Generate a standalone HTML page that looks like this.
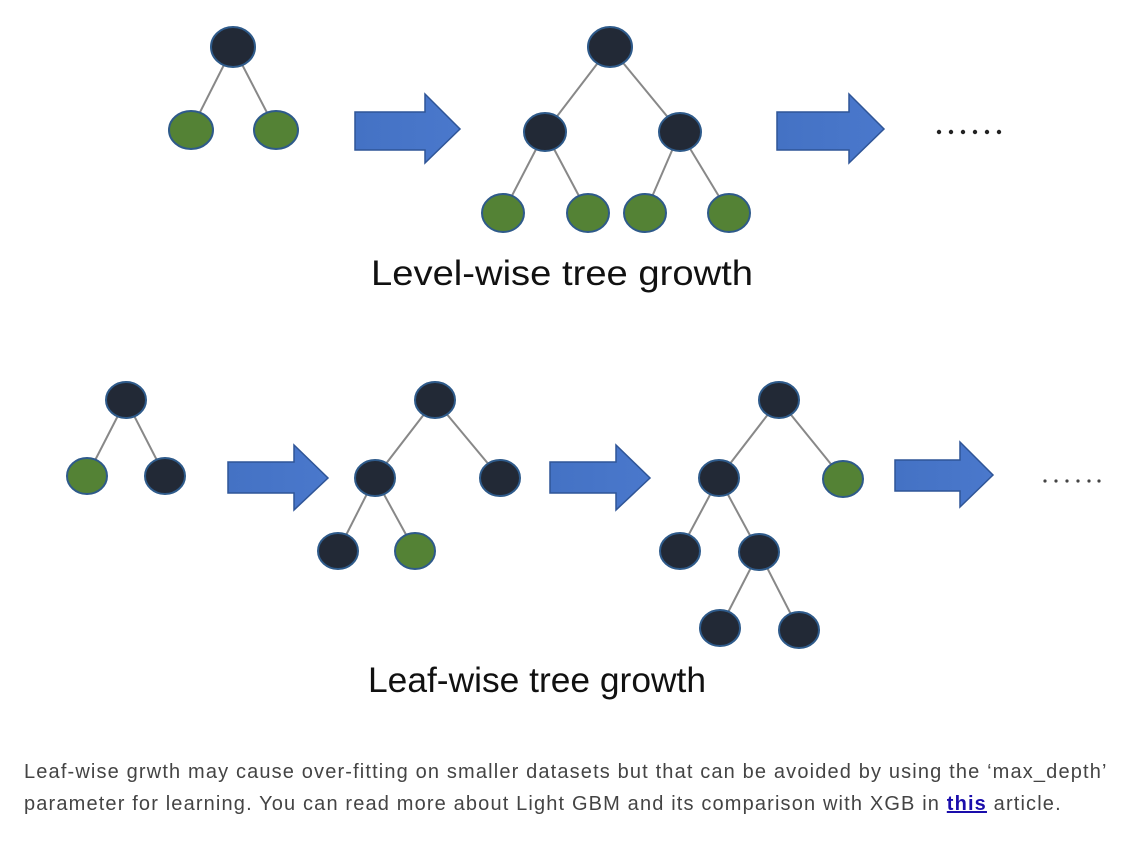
<!DOCTYPE html>
<html><head><style>
body{margin:0;background:#fff;width:1143px;height:851px;overflow:hidden;position:relative}
svg{position:absolute;left:0;top:0}
.p{position:absolute;left:24px;top:756px;width:1119px;white-space:nowrap;font-family:"Liberation Sans",sans-serif;font-size:20px;letter-spacing:1.15px;line-height:32px;color:#444}
.p a{color:#1a0dab;font-weight:bold;text-decoration:underline}
</style></head><body>
<svg width="1143" height="851" xmlns="http://www.w3.org/2000/svg">
<defs>
<linearGradient id="ag" x1="0" x2="1"><stop offset="0" stop-color="#4472c4"/><stop offset="1" stop-color="#4a78cc"/></linearGradient>
</defs>
<g stroke="#888" stroke-width="2">
<line x1="233" y1="47" x2="191" y2="130"/><line x1="233" y1="47" x2="276" y2="130"/>
<line x1="610" y1="47" x2="545" y2="132"/><line x1="610" y1="47" x2="680" y2="132"/>
<line x1="545" y1="132" x2="503" y2="213"/><line x1="545" y1="132" x2="588" y2="213"/>
<line x1="680" y1="132" x2="645" y2="213"/><line x1="680" y1="132" x2="729" y2="213"/>
<line x1="126" y1="400" x2="87" y2="476"/><line x1="126" y1="400" x2="165" y2="476"/>
<line x1="435" y1="400" x2="375" y2="478"/><line x1="435" y1="400" x2="500" y2="478"/>
<line x1="375" y1="478" x2="338" y2="551"/><line x1="375" y1="478" x2="415" y2="551"/>
<line x1="779" y1="400" x2="719" y2="478"/><line x1="779" y1="400" x2="843" y2="479"/>
<line x1="719" y1="478" x2="680" y2="551"/><line x1="719" y1="478" x2="759" y2="552"/>
<line x1="759" y1="552" x2="720" y2="628"/><line x1="759" y1="552" x2="799" y2="630"/>
</g>
<g stroke="#2e5a8a" stroke-width="2">
<g fill="#222936">
<ellipse cx="233" cy="47" rx="22" ry="20"/>
<ellipse cx="610" cy="47" rx="22" ry="20"/>
<ellipse cx="545" cy="132" rx="21" ry="19"/><ellipse cx="680" cy="132" rx="21" ry="19"/>
<ellipse cx="126" cy="400" rx="20" ry="18"/><ellipse cx="165" cy="476" rx="20" ry="18"/>
<ellipse cx="435" cy="400" rx="20" ry="18"/><ellipse cx="375" cy="478" rx="20" ry="18"/><ellipse cx="500" cy="478" rx="20" ry="18"/><ellipse cx="338" cy="551" rx="20" ry="18"/>
<ellipse cx="779" cy="400" rx="20" ry="18"/><ellipse cx="719" cy="478" rx="20" ry="18"/><ellipse cx="680" cy="551" rx="20" ry="18"/><ellipse cx="759" cy="552" rx="20" ry="18"/><ellipse cx="720" cy="628" rx="20" ry="18"/><ellipse cx="799" cy="630" rx="20" ry="18"/>
</g>
<g fill="#548235">
<ellipse cx="191" cy="130" rx="22" ry="19"/><ellipse cx="276" cy="130" rx="22" ry="19"/>
<ellipse cx="503" cy="213" rx="21" ry="19"/><ellipse cx="588" cy="213" rx="21" ry="19"/><ellipse cx="645" cy="213" rx="21" ry="19"/><ellipse cx="729" cy="213" rx="21" ry="19"/>
<ellipse cx="87" cy="476" rx="20" ry="18"/><ellipse cx="415" cy="551" rx="20" ry="18"/><ellipse cx="843" cy="479" rx="20" ry="18"/>
</g>
</g>
<g fill="url(#ag)" stroke="#2f5597" stroke-width="1.5">
<polygon points="355,112 425,112 425,94 460,129 425,163 425,150 355,150"/>
<polygon points="777,112 849,112 849,94 884,129 849,163 849,150 777,150"/>
<polygon points="228,462 294,462 294,445 328,478 294,510 294,493 228,493"/>
<polygon points="550,462 616,462 616,445 650,478 616,510 616,493 550,493"/>
<polygon points="895,460 960,460 960,442 993,475 960,507 960,491 895,491"/>
</g>
<g fill="#222">
<circle cx="939" cy="132" r="2.2"/><circle cx="951" cy="132" r="2.2"/><circle cx="963" cy="132" r="2.2"/><circle cx="975" cy="132" r="2.2"/><circle cx="987" cy="132" r="2.2"/><circle cx="999" cy="132" r="2.2"/>
</g>
<g fill="#444">
<circle cx="1045" cy="481" r="1.6"/><circle cx="1056" cy="481" r="1.6"/><circle cx="1067" cy="481" r="1.6"/><circle cx="1078" cy="481" r="1.6"/><circle cx="1089" cy="481" r="1.6"/><circle cx="1099" cy="481" r="1.6"/>
</g>
<text x="371" y="285" textLength="382" lengthAdjust="spacingAndGlyphs" font-family="Liberation Sans, sans-serif" font-size="35" fill="#111">Level-wise tree growth</text>
<text x="368" y="692" textLength="338" lengthAdjust="spacingAndGlyphs" font-family="Liberation Sans, sans-serif" font-size="35" fill="#111">Leaf-wise tree growth</text>
</svg>
<div class="p">Leaf-wise grwth may cause over-fitting on smaller datasets but that can be avoided by using the ‘max_depth’<br>parameter for learning. You can read more about Light GBM and its comparison with XGB in <a>this</a> article.</div>
</body></html>
